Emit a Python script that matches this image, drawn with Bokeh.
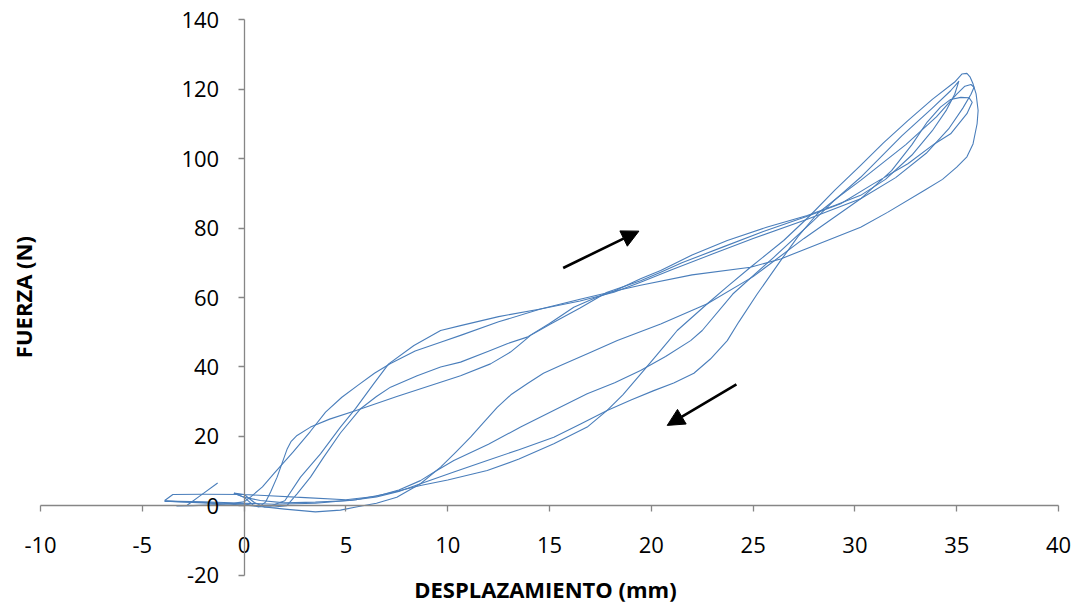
import math
from bokeh.plotting import figure
from bokeh.models import (LinearAxis, Range1d, SingleIntervalTicker, Label, Arrow,
                          NormalHead, ColumnDataSource, PrintfTickFormatter)
from bokeh.embed import file_html
from bokeh.resources import INLINE

# ---- data (displacement mm, force N) ----
cycle1 = [(-1.3, 6.6), (-2.1, 3.2), (-2.8, 0.2), (-3.3, 0.0), (-2.5, 0.1), (-1.0, 0.5), (0.0, 1.2),
          (0.3, 2.5), (0.9, 5.5), (1.46, 9.3), (2.4, 15.5), (3.26, 21.5), (4.0, 27.0), (4.8, 31.3),
          (5.6, 34.8), (6.4, 38.2), (7.19, 41.0), (8.4, 44.6), (9.65, 47.1), (10.63, 49.1), (12.5, 53.0),
          (14.56, 56.7), (16.5, 59.5), (18.16, 61.8), (19.47, 63.5), (22.0, 66.5), (24.87, 68.7),
          (26.35, 71.1), (28.64, 76.4), (30.28, 80.2), (31.6, 84.5), (33.4, 90.8), (34.3, 94.0),
          (35.0, 97.5), (35.5, 100.5), (35.8, 104.2), (36.0, 110.0), (36.05, 113.8), (35.95, 118.6),
          (35.8, 121.5), (35.65, 123.5), (35.5, 124.5), (35.25, 124.3), (34.9, 122.0), (33.8, 117.0),
          (32.6, 110.9), (31.4, 104.5), (30.28, 98.0), (29.0, 90.8), (27.8, 83.6), (26.5, 76.4),
          (24.87, 68.7), (23.7, 63.0), (22.75, 58.2), (21.27, 50.5), (20.86, 47.6), (20.2, 43.0),
          (19.63, 39.0), (18.6, 32.0), (17.83, 27.5), (16.85, 22.7), (15.21, 17.9), (13.5, 13.5),
          (11.94, 10.2), (10.0, 7.5), (8.66, 5.9), (7.0, 3.5), (5.5, 1.8), (3.5, 0.8), (1.5, 0.5),
          (0.0, 0.8), (-2.0, 1.2), (-3.9, 1.4)]

cycle2 = [(-3.9, 1.4), (-2.0, 1.0), (0.0, 0.6), (0.6, 0.0), (1.3, 0.0), (2.0, 1.5), (2.77, 8.3),
          (3.75, 15.0), (4.73, 22.7), (5.47, 28.0), (6.37, 35.2), (7.1, 40.9), (8.34, 46.2),
          (9.65, 50.5), (10.63, 51.9), (12.5, 54.5), (14.56, 56.7), (16.5, 59.0), (18.16, 61.5),
          (19.47, 64.4), (21.0, 68.0), (23.0, 72.5), (25.0, 77.0), (27.66, 82.5), (30.28, 88.4),
          (32.0, 94.5), (33.5, 101.5), (34.6, 108.5), (35.3, 114.5), (35.7, 118.5), (35.85, 120.5),
          (35.7, 121.3), (35.4, 120.8), (35.0, 118.5), (34.0, 112.0), (32.5, 104.0), (30.28, 93.7),
          (29.2, 89.0), (28.15, 84.1), (27.2, 77.5), (26.35, 70.6), (25.2, 61.0), (24.3, 53.0),
          (23.73, 47.6), (22.9, 42.3), (22.09, 38.2), (21.1, 35.4), (20.12, 33.2), (19.0, 30.5),
          (17.83, 27.5), (16.5, 23.5), (15.21, 19.8), (13.5, 16.2), (11.94, 13.1), (10.3, 9.8),
          (8.66, 6.4), (7.6, 4.2), (6.5, 2.6), (5.2, 1.6), (3.5, 1.1), (2.0, 0.9), (0.8, 1.6),
          (0.0, 2.5), (-0.5, 3.7)]

cycle3 = [(-0.5, 3.7), (0.0, 3.3), (0.5, 1.0), (1.0, -0.3), (1.5, -0.3), (2.1, 0.1), (2.6, 3.5),
          (3.26, 8.3), (3.9, 14.0), (4.73, 21.0), (5.72, 28.0), (6.5, 31.5), (7.19, 34.2),
          (8.5, 37.5), (9.65, 40.0), (10.63, 41.4), (12.0, 44.5), (12.92, 46.7), (13.9, 48.6),
          (15.0, 52.5), (16.19, 57.2), (17.2, 59.8), (18.16, 61.8), (19.47, 65.4), (20.46, 67.8),
          (22.0, 72.2), (23.73, 76.4), (25.7, 80.3), (27.66, 83.6), (29.0, 86.5), (30.28, 89.4),
          (31.5, 94.0), (32.8, 101.0), (33.8, 108.0), (34.5, 114.0), (34.9, 118.5), (35.1, 122.2),
          (34.7, 119.5), (33.8, 114.5), (32.3, 106.5), (30.28, 94.6), (29.0, 88.0), (27.98, 82.2),
          (26.0, 71.5), (24.0, 61.0), (22.5, 50.5), (21.93, 47.6), (20.7, 43.0), (19.47, 39.0),
          (18.2, 35.5), (16.85, 32.3), (15.2, 27.5), (13.58, 22.7), (12.0, 17.8), (10.3, 13.1),
          (9.4, 10.0), (8.66, 7.3), (7.6, 4.6), (6.5, 2.8), (5.0, 1.8), (3.0, 2.4), (1.0, 3.0),
          (0.0, 3.3), (-2.0, 3.4), (-3.5, 3.3), (-3.9, 1.6)]

cycle4 = [(-3.9, 1.4), (-2.0, 0.9), (0.0, 0.3), (1.0, -0.3), (2.0, -0.9), (3.5, -1.7), (4.73, -1.2),
          (5.5, -0.3), (6.5, 0.8), (7.5, 2.5), (8.66, 6.4), (9.65, 11.2), (10.4, 15.5), (11.12, 19.8),
          (11.8, 24.3), (12.43, 28.4), (13.1, 32.0), (13.9, 35.2), (14.7, 38.2), (15.54, 40.4),
          (17.0, 44.2), (18.33, 47.6), (20.46, 52.4), (22.75, 58.2), (25.0, 66.0), (27.5, 77.0),
          (30.28, 88.4), (31.8, 96.5), (32.8, 104.0), (33.55, 110.5), (34.2, 114.8), (34.7, 117.0),
          (35.2, 117.6), (35.6, 117.5), (35.76, 116.2), (35.5, 112.9), (34.7, 107.1), (33.9, 104.2),
          (32.6, 98.5), (30.9, 92.7), (29.3, 87.0), (27.66, 83.4), (25.5, 79.0), (23.5, 74.5),
          (21.5, 70.0), (20.46, 67.3), (19.47, 64.8), (17.83, 61.5), (16.5, 57.0), (15.05, 52.4),
          (14.07, 49.1), (13.5, 46.3), (13.08, 44.3), (12.1, 40.9), (10.63, 37.5), (9.65, 35.6),
          (7.5, 31.5), (5.5, 27.5), (4.2, 25.0), (3.26, 22.7), (2.6, 20.3), (2.3, 18.5), (2.12, 16.5),
          (1.62, 8.3), (1.3, 4.0), (1.05, 1.1), (0.72, -0.3), (0.48, 0.1), (0.0, 2.5), (-0.5, 3.7)]

cycles = [cycle1, cycle2, cycle3, cycle4]

# direction arrows (loading / unloading)
arrow_x_start = [15.67, 24.18]
arrow_y_start = [68.5, 35.0]
arrow_x_end = [19.39, 20.78]
arrow_y_end = [79.1, 23.2]

x_title = "DESPLAZAMIENTO (mm)"
y_title = "FUERZA (N)"

FONT = "Open Sans"
AXIS_COLOR = "#868686"
LINE_COLOR = "#4A7EBB"

# Axes span -10..40 and -20..140; the frame covers the whole canvas so that
# edge tick labels and the axis titles are not clipped.
p = figure(frame_width=1078, frame_height=612, output_backend="svg", toolbar_location=None,
           x_range=Range1d(-11.965, 40.98), y_range=Range1d(-30.65, 145.47),
           x_axis_location=None, y_axis_location=None,
           min_border_left=0, min_border_right=0, min_border_top=0, min_border_bottom=0)
p.grid.grid_line_color = None
p.outline_line_color = None
p.background_fill_color = "white"
p.border_fill_color = "white"

for cyc in cycles:
    xs = [pt[0] for pt in cyc]
    ys = [pt[1] for pt in cyc]
    p.line(xs, ys, line_color=LINE_COLOR, line_width=1.1, line_join="round")


def style_axis(ax):
    ax.axis_line_color = AXIS_COLOR
    ax.axis_line_width = 1.3
    ax.major_tick_line_color = AXIS_COLOR
    ax.major_tick_line_width = 1.3
    ax.major_tick_out = 6
    ax.major_tick_in = 0
    ax.minor_tick_out = 0
    ax.minor_tick_in = 0
    ax.major_label_text_font = FONT
    ax.major_label_text_font_size = "22px"
    ax.major_label_text_color = "#000000"
    ax.formatter = PrintfTickFormatter(format="%d")


xaxis = LinearAxis(fixed_location=0, bounds=(-10, 40),
                   ticker=SingleIntervalTicker(interval=5, num_minor_ticks=0))
style_axis(xaxis)
xaxis.major_label_standoff = 25
p.add_layout(xaxis, "below")

yaxis = LinearAxis(fixed_location=0, bounds=(-20, 140),
                   ticker=SingleIntervalTicker(interval=20, num_minor_ticks=0))
style_axis(yaxis)
yaxis.major_label_standoff = 19
p.add_layout(yaxis, "left")

p.add_layout(Label(x=-10.88, y=60.1, text=y_title, angle=math.pi / 2, text_align="center",
                   text_baseline="middle", text_font=FONT, text_font_size="22px",
                   text_font_style="bold", text_color="#000000"))
p.add_layout(Label(x=14.8, y=-24.0, text=x_title, text_align="center",
                   text_baseline="middle", text_font=FONT, text_font_size="22px",
                   text_font_style="bold", text_color="#000000"))

arrow_src = ColumnDataSource(dict(x0=arrow_x_start, y0=arrow_y_start, x1=arrow_x_end, y1=arrow_y_end))
p.add_layout(Arrow(end=NormalHead(size=17, fill_color="black", line_color="black"),
                   x_start="x0", y_start="y0", x_end="x1", y_end="y1", source=arrow_src,
                   line_color="black", line_width=2.6))

open("out.html", "w").write(file_html(p, INLINE))
